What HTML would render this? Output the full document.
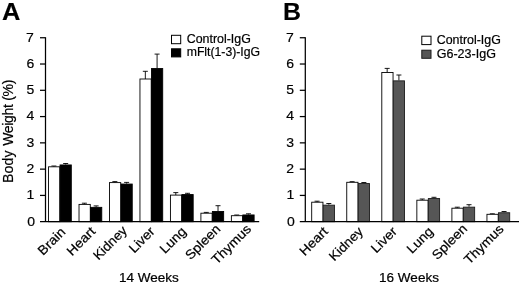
<!DOCTYPE html>
<html><head><meta charset="utf-8"><title>Figure</title>
<style>
html,body{margin:0;padding:0;background:#fff;}
svg{display:block;font-family:"Liberation Sans",sans-serif;fill:#000;}
text{stroke:#000;stroke-width:0.18px;}
</style></head>
<body>
<svg width="520" height="283" viewBox="0 0 520 283">
<rect width="520" height="283" fill="#fff"/>
<text transform="translate(2.00 19.50) scale(1.05 1)" font-size="24.2" font-weight="bold" style="stroke-width:0.15px">A</text>
<path d="M53.92 166.80V166.00M51.42 166.00H56.42" stroke="#000" stroke-width="0.9" fill="none"/>
<rect x="48.55" y="166.80" width="11.25" height="54.90" fill="#fff" stroke="#000" stroke-width="0.9"/>
<path d="M65.67 164.50V163.50M63.17 163.50H68.17" stroke="#000" stroke-width="0.9" fill="none"/>
<rect x="60.05" y="164.95" width="11.25" height="56.75" fill="#000" stroke="#000" stroke-width="0.9"/>
<text transform="translate(66.20 232.80) rotate(-45) scale(1.07 1)" text-anchor="end" font-size="13.1" style="stroke-width:0.22px">Brain</text>
<path d="M84.39 204.40V203.20M81.89 203.20H86.89" stroke="#000" stroke-width="0.9" fill="none"/>
<rect x="79.02" y="204.40" width="11.25" height="17.30" fill="#fff" stroke="#000" stroke-width="0.9"/>
<path d="M96.14 206.90V205.90M93.64 205.90H98.64" stroke="#000" stroke-width="0.9" fill="none"/>
<rect x="90.52" y="207.35" width="11.25" height="14.35" fill="#000" stroke="#000" stroke-width="0.9"/>
<text transform="translate(96.17 232.30) rotate(-45) scale(1.07 1)" text-anchor="end" font-size="13.1" style="stroke-width:0.22px">Heart</text>
<path d="M114.86 182.60V181.60M112.36 181.60H117.36" stroke="#000" stroke-width="0.9" fill="none"/>
<rect x="109.49" y="182.60" width="11.25" height="39.10" fill="#fff" stroke="#000" stroke-width="0.9"/>
<path d="M126.61 183.60V182.40M124.11 182.40H129.12" stroke="#000" stroke-width="0.9" fill="none"/>
<rect x="120.99" y="184.05" width="11.25" height="37.65" fill="#000" stroke="#000" stroke-width="0.9"/>
<text transform="translate(127.94 231.30) rotate(-45) scale(1.045 1)" text-anchor="end" font-size="13.1" style="stroke-width:0.22px">Kidney</text>
<path d="M145.33 79.00V71.30M142.83 71.30H147.83" stroke="#000" stroke-width="0.9" fill="none"/>
<rect x="139.96" y="79.00" width="11.25" height="142.70" fill="#fff" stroke="#000" stroke-width="0.9"/>
<path d="M157.08 68.10V54.10M154.58 54.10H159.58" stroke="#000" stroke-width="0.9" fill="none"/>
<rect x="151.46" y="68.55" width="11.25" height="153.15" fill="#000" stroke="#000" stroke-width="0.9"/>
<text transform="translate(155.61 232.30) rotate(-45) scale(1.07 1)" text-anchor="end" font-size="13.1" style="stroke-width:0.22px">Liver</text>
<path d="M175.81 195.10V192.60M173.31 192.60H178.31" stroke="#000" stroke-width="0.9" fill="none"/>
<rect x="170.43" y="195.10" width="11.25" height="26.60" fill="#fff" stroke="#000" stroke-width="0.9"/>
<path d="M187.56 194.10V193.30M185.06 193.30H190.06" stroke="#000" stroke-width="0.9" fill="none"/>
<rect x="181.93" y="194.55" width="11.25" height="27.15" fill="#000" stroke="#000" stroke-width="0.9"/>
<text transform="translate(186.98 232.30) rotate(-45) scale(1.07 1)" text-anchor="end" font-size="13.1" style="stroke-width:0.22px">Lung</text>
<path d="M206.27 213.20V212.40M203.77 212.40H208.77" stroke="#000" stroke-width="0.9" fill="none"/>
<rect x="200.90" y="213.20" width="11.25" height="8.50" fill="#fff" stroke="#000" stroke-width="0.9"/>
<path d="M218.02 211.00V205.70M215.52 205.70H220.52" stroke="#000" stroke-width="0.9" fill="none"/>
<rect x="212.40" y="211.45" width="11.25" height="10.25" fill="#000" stroke="#000" stroke-width="0.9"/>
<text transform="translate(221.25 229.80) rotate(-45) scale(1.07 1)" text-anchor="end" font-size="13.1" style="stroke-width:0.22px">Spleen</text>
<path d="M236.75 215.70V215.00M234.25 215.00H239.25" stroke="#000" stroke-width="0.9" fill="none"/>
<rect x="231.37" y="215.70" width="11.25" height="6.00" fill="#fff" stroke="#000" stroke-width="0.9"/>
<path d="M248.50 214.50V213.80M246.00 213.80H251.00" stroke="#000" stroke-width="0.9" fill="none"/>
<rect x="242.87" y="214.95" width="11.25" height="6.75" fill="#000" stroke="#000" stroke-width="0.9"/>
<text transform="translate(252.02 229.80) rotate(-45) scale(1.07 1)" text-anchor="end" font-size="13.1" style="stroke-width:0.22px">Thymus</text>
<path d="M40.0 221.7H259.2M45.5 222.2V37.14" stroke="#000" stroke-width="1.25" fill="none"/>
<text transform="translate(35.10 225.60) scale(1.07 1)" text-anchor="end" font-size="13.1">0</text>
<path d="M40.0 195.42H45.5" stroke="#000" stroke-width="1.25"/>
<text transform="translate(34.40 199.32) scale(1.07 1)" text-anchor="end" font-size="13.1">1</text>
<path d="M40.0 169.14H45.5" stroke="#000" stroke-width="1.25"/>
<text transform="translate(34.20 173.04) scale(1.07 1)" text-anchor="end" font-size="13.1">2</text>
<path d="M40.0 142.86H45.5" stroke="#000" stroke-width="1.25"/>
<text transform="translate(34.20 146.76) scale(1.07 1)" text-anchor="end" font-size="13.1">3</text>
<path d="M40.0 116.58H45.5" stroke="#000" stroke-width="1.25"/>
<text transform="translate(34.20 120.48) scale(1.07 1)" text-anchor="end" font-size="13.1">4</text>
<path d="M40.0 90.30H45.5" stroke="#000" stroke-width="1.25"/>
<text transform="translate(34.20 94.20) scale(1.07 1)" text-anchor="end" font-size="13.1">5</text>
<path d="M40.0 64.02H45.5" stroke="#000" stroke-width="1.25"/>
<text transform="translate(34.20 67.92) scale(1.07 1)" text-anchor="end" font-size="13.1">6</text>
<path d="M40.0 37.74H45.5" stroke="#000" stroke-width="1.25"/>
<text transform="translate(33.90 41.64) scale(1.07 1)" text-anchor="end" font-size="13.1">7</text>
<text transform="translate(148.90 281.70) scale(1.04 1)" text-anchor="middle" font-size="13" style="stroke-width:0.22px">14 Weeks</text>
<rect x="171.5" y="35.30" width="9.2" height="8.4" fill="#fff" stroke="#000" stroke-width="1"/>
<rect x="171.5" y="48.80" width="9.2" height="8.1" fill="#000" stroke="#000" stroke-width="1"/>
<text transform="translate(186.70 43.00) scale(1.035 1)" font-size="12" style="stroke-width:0.2px">Control-IgG</text>
<text transform="translate(186.70 56.40) scale(1.02 1)" font-size="12" style="stroke-width:0.2px">mFlt(1-3)-IgG</text>
<text transform="translate(13.00 182.90) rotate(-90)" font-size="14" letter-spacing="0.17">Body</text>
<text transform="translate(13.00 145.80) rotate(-90)" font-size="14" letter-spacing="-0.32">Weight (%)</text>
<text transform="translate(283.10 19.50) scale(1.03 1)" font-size="24.2" font-weight="bold" style="stroke-width:0.15px">B</text>
<path d="M317.07 202.20V201.20M314.57 201.20H319.57" stroke="#000" stroke-width="0.9" fill="none"/>
<rect x="311.70" y="202.20" width="11.25" height="19.50" fill="#fff" stroke="#000" stroke-width="0.9"/>
<path d="M328.82 204.70V203.50M326.32 203.50H331.32" stroke="#000" stroke-width="0.9" fill="none"/>
<rect x="323.20" y="205.15" width="11.25" height="16.55" fill="#565656" stroke="#1c1c1c" stroke-width="0.9"/>
<text transform="translate(328.85 232.30) rotate(-45) scale(1.07 1)" text-anchor="end" font-size="13.1" style="stroke-width:0.22px">Heart</text>
<path d="M352.12 182.30V181.70M349.62 181.70H354.62" stroke="#000" stroke-width="0.9" fill="none"/>
<rect x="346.75" y="182.30" width="11.25" height="39.40" fill="#fff" stroke="#000" stroke-width="0.9"/>
<path d="M363.88 183.10V182.50M361.38 182.50H366.38" stroke="#000" stroke-width="0.9" fill="none"/>
<rect x="358.25" y="183.55" width="11.25" height="38.15" fill="#565656" stroke="#1c1c1c" stroke-width="0.9"/>
<text transform="translate(363.90 232.30) rotate(-45) scale(1.045 1)" text-anchor="end" font-size="13.1" style="stroke-width:0.22px">Kidney</text>
<path d="M387.17 72.50V68.40M384.67 68.40H389.67" stroke="#000" stroke-width="0.9" fill="none"/>
<rect x="381.80" y="72.50" width="11.25" height="149.20" fill="#fff" stroke="#000" stroke-width="0.9"/>
<path d="M398.92 80.40V75.00M396.42 75.00H401.42" stroke="#000" stroke-width="0.9" fill="none"/>
<rect x="393.30" y="80.85" width="11.25" height="140.85" fill="#565656" stroke="#1c1c1c" stroke-width="0.9"/>
<text transform="translate(397.75 232.30) rotate(-45) scale(1.07 1)" text-anchor="end" font-size="13.1" style="stroke-width:0.22px">Liver</text>
<path d="M422.22 200.20V199.00M419.72 199.00H424.72" stroke="#000" stroke-width="0.9" fill="none"/>
<rect x="416.85" y="200.20" width="11.25" height="21.50" fill="#fff" stroke="#000" stroke-width="0.9"/>
<path d="M433.97 198.10V197.30M431.47 197.30H436.47" stroke="#000" stroke-width="0.9" fill="none"/>
<rect x="428.35" y="198.55" width="11.25" height="23.15" fill="#565656" stroke="#1c1c1c" stroke-width="0.9"/>
<text transform="translate(434.00 232.30) rotate(-45) scale(1.07 1)" text-anchor="end" font-size="13.1" style="stroke-width:0.22px">Lung</text>
<path d="M457.27 208.20V207.20M454.77 207.20H459.77" stroke="#000" stroke-width="0.9" fill="none"/>
<rect x="451.90" y="208.20" width="11.25" height="13.50" fill="#fff" stroke="#000" stroke-width="0.9"/>
<path d="M469.02 206.70V204.70M466.52 204.70H471.52" stroke="#000" stroke-width="0.9" fill="none"/>
<rect x="463.40" y="207.15" width="11.25" height="14.55" fill="#565656" stroke="#1c1c1c" stroke-width="0.9"/>
<text transform="translate(468.05 229.60) rotate(-45) scale(1.07 1)" text-anchor="end" font-size="13.1" style="stroke-width:0.22px">Spleen</text>
<path d="M492.32 214.30V213.80M489.82 213.80H494.82" stroke="#000" stroke-width="0.9" fill="none"/>
<rect x="486.95" y="214.30" width="11.25" height="7.40" fill="#fff" stroke="#000" stroke-width="0.9"/>
<path d="M504.07 212.30V211.50M501.57 211.50H506.57" stroke="#000" stroke-width="0.9" fill="none"/>
<rect x="498.45" y="212.75" width="11.25" height="8.95" fill="#565656" stroke="#1c1c1c" stroke-width="0.9"/>
<text transform="translate(504.40 229.90) rotate(-45) scale(1.07 1)" text-anchor="end" font-size="13.1" style="stroke-width:0.22px">Thymus</text>
<path d="M299.8 221.7H519.0M305.3 222.2V37.14" stroke="#000" stroke-width="1.25" fill="none"/>
<text transform="translate(294.90 225.60) scale(1.07 1)" text-anchor="end" font-size="13.1">0</text>
<path d="M299.8 195.42H305.3" stroke="#000" stroke-width="1.25"/>
<text transform="translate(294.20 199.32) scale(1.07 1)" text-anchor="end" font-size="13.1">1</text>
<path d="M299.8 169.14H305.3" stroke="#000" stroke-width="1.25"/>
<text transform="translate(294.00 173.04) scale(1.07 1)" text-anchor="end" font-size="13.1">2</text>
<path d="M299.8 142.86H305.3" stroke="#000" stroke-width="1.25"/>
<text transform="translate(294.00 146.76) scale(1.07 1)" text-anchor="end" font-size="13.1">3</text>
<path d="M299.8 116.58H305.3" stroke="#000" stroke-width="1.25"/>
<text transform="translate(294.00 120.48) scale(1.07 1)" text-anchor="end" font-size="13.1">4</text>
<path d="M299.8 90.30H305.3" stroke="#000" stroke-width="1.25"/>
<text transform="translate(294.00 94.20) scale(1.07 1)" text-anchor="end" font-size="13.1">5</text>
<path d="M299.8 64.02H305.3" stroke="#000" stroke-width="1.25"/>
<text transform="translate(294.00 67.92) scale(1.07 1)" text-anchor="end" font-size="13.1">6</text>
<path d="M299.8 37.74H305.3" stroke="#000" stroke-width="1.25"/>
<text transform="translate(293.70 41.64) scale(1.07 1)" text-anchor="end" font-size="13.1">7</text>
<text transform="translate(409.00 281.70) scale(1.04 1)" text-anchor="middle" font-size="13" style="stroke-width:0.22px">16 Weeks</text>
<rect x="421.8" y="36.20" width="9.2" height="8.4" fill="#fff" stroke="#000" stroke-width="1"/>
<rect x="421.8" y="50.20" width="9.2" height="8.1" fill="#565656" stroke="#1c1c1c" stroke-width="1"/>
<text transform="translate(436.70 43.90) scale(1.035 1)" font-size="12" style="stroke-width:0.2px">Control-IgG</text>
<text transform="translate(436.70 57.80) scale(1.045 1)" font-size="12" style="stroke-width:0.2px">G6-23-IgG</text>
</svg>
</body></html>
